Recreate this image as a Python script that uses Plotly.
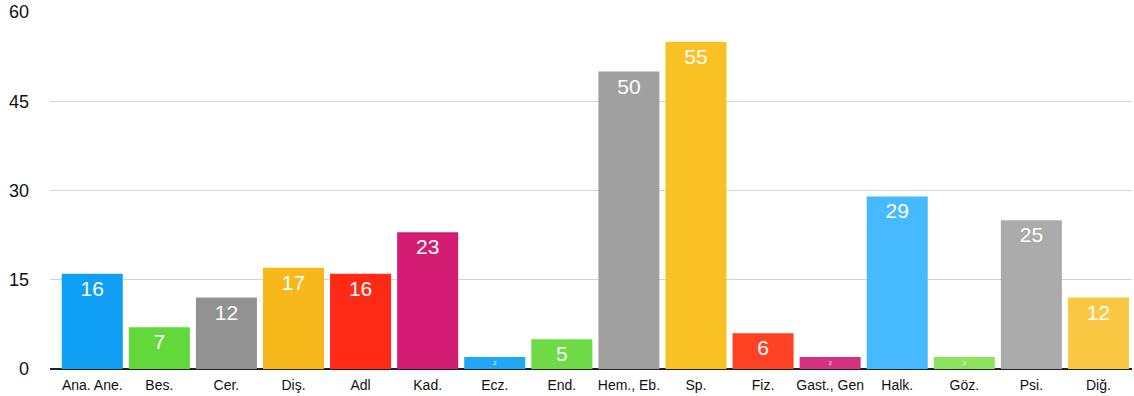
import plotly.graph_objects as go

categories = ["Ana. Ane.", "Bes.", "Cer.", "Diş.", "Adl", "Kad.", "Ecz.", "End.",
              "Hem., Eb.", "Sp.", "Fiz.", "Gast., Gen", "Halk.", "Göz.", "Psi.", "Diğ."]
values = [16, 7, 12, 17, 16, 23, 2, 5, 50, 55, 6, 2, 29, 2, 25, 12]
colors = ["#0FA0F5", "#62D83A", "#929292", "#F6B81A", "#FF2A16", "#D41C74", "#1EA8F6", "#6DDA46",
          "#A0A0A0", "#FAC124", "#FF4124", "#D5317F", "#46B9FF", "#8BE35E", "#ABABAB", "#FAC842"]
y_ticks = [0, 15, 30, 45, 60]

fig = go.Figure(go.Bar(
    x=categories,
    y=values,
    marker=dict(color=colors, line=dict(width=0)),
    text=[str(v) for v in values],
    textposition="inside",
    insidetextanchor="end",
    textfont=dict(color="white", size=21, family="Liberation Sans, Arial, sans-serif"),
    textangle=0,
))

fig.update_layout(
    width=1134, height=396,
    margin=dict(l=50, r=2, t=12, b=27),
    plot_bgcolor="white", paper_bgcolor="white",
    bargap=0.09,
    showlegend=False,
    font=dict(family="Liberation Sans, Arial, sans-serif", color="#111111"),
)
fig.update_xaxes(
    type="category",
    range=[-0.63, 15.5],
    showgrid=False,
    showline=False,
    ticks="",
    tickfont=dict(size=14),
    ticklabelstandoff=6,
)
fig.update_yaxes(
    range=[0, 60],
    tickvals=y_ticks,
    showgrid=True, gridcolor="#d4d4d4", gridwidth=1,
    zeroline=True, zerolinecolor="#222222", zerolinewidth=1.5,
    showline=False,
    ticks="",
    tickfont=dict(size=18),
    ticklabelstandoff=20,
)

fig.write_html("out.html")
